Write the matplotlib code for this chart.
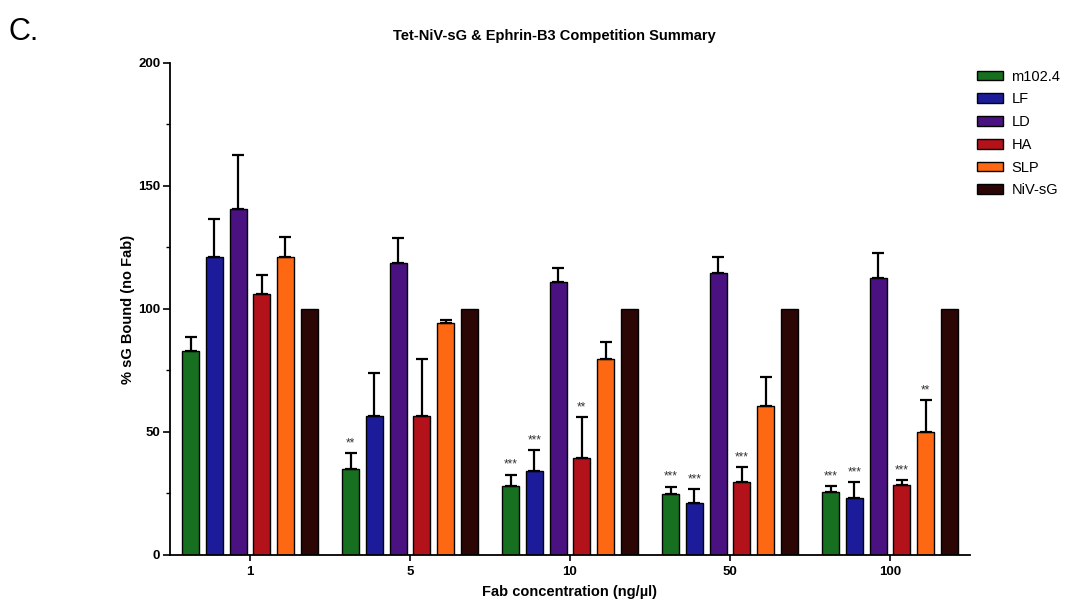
import numpy as np
import matplotlib
matplotlib.use("Agg")
import matplotlib.pyplot as plt
from matplotlib.ticker import MultipleLocator

plt.rcParams['font.family'] = ['Liberation Sans', 'DejaVu Sans']

concentrations = ["1", "5", "10", "50", "100"]
series = ["m102.4", "LF", "LD", "HA", "SLP", "NiV-sG"]
colors = ["#17701f", "#1c1c9a", "#4a1280", "#b3121a", "#ff6812", "#2c0505"]

means = {
    "m102.4": [83, 35, 28, 24.7, 25.5],
    "LF":     [121, 56.5, 34, 21.3, 23],
    "LD":     [140.5, 118.5, 111, 114.5, 112.7],
    "HA":     [106, 56.5, 39.6, 29.8, 28.5],
    "SLP":    [121.3, 94.2, 79.5, 60.7, 50.1],
    "NiV-sG": [100, 100, 100, 100, 100],
}
errors = {
    "m102.4": [5.5, 6.6, 4.7, 3.1, 2.5],
    "LF":     [15.5, 17.6, 8.5, 5.4, 6.8],
    "LD":     [22, 10.5, 5.8, 6.8, 9.9],
    "HA":     [8, 23, 16.6, 6.1, 2],
    "SLP":    [8, 1.3, 7, 11.8, 12.9],
    "NiV-sG": [0, 0, 0, 0, 0],
}
stars = {
    "m102.4": ["", "**", "***", "***", "***"],
    "LF":     ["", "", "***", "***", "***"],
    "LD":     ["", "", "", "", ""],
    "HA":     ["", "", "**", "***", "***"],
    "SLP":    ["", "", "", "", "**"],
    "NiV-sG": ["", "", "", "", ""],
}

fig = plt.figure(figsize=(10.71, 6.08), dpi=100)
ax = fig.add_axes([0.1587, 0.0872, 0.747, 0.8092])

x = np.arange(len(concentrations))
step = 0.148
width = 0.107
for i, (name, col) in enumerate(zip(series, colors)):
    pos = x + (i - 2.5) * step
    vals = means[name]
    errs = errors[name]
    ax.bar(pos, vals, width=width, color=col, edgecolor="black", linewidth=1.0,
           label=name, zorder=2)
    has_err = [e > 0 for e in errs]
    ax.errorbar(pos[has_err], np.array(vals)[has_err],
                yerr=[np.zeros(sum(has_err)), np.array(errs)[has_err]],
                fmt="none", ecolor="black", elinewidth=1.6, capsize=4,
                capthick=1.6, zorder=3)
    for p, v, e, s in zip(pos, vals, errs, stars[name]):
        if s:
            ax.text(p, v + e + 1.5, s, ha="center", va="bottom", fontsize=8.5,
                    color="#333333")

ax.set_xlim(-0.5, 4.5)
ax.set_ylim(0, 200)
ax.spines["top"].set_visible(False)
ax.spines["right"].set_visible(False)
ax.spines["left"].set_linewidth(1.3)
ax.spines["bottom"].set_linewidth(1.3)
ax.set_xticks(x)
ax.set_xticklabels(concentrations, fontweight="bold", fontsize=9.5)
ax.yaxis.set_major_locator(MultipleLocator(50))
ax.yaxis.set_minor_locator(MultipleLocator(25))
ax.tick_params(axis="y", which="major", length=5, width=1.2, labelsize=9.5, pad=2)
ax.tick_params(axis="y", which="minor", length=3, width=1.0)
ax.tick_params(axis="x", length=4, width=1.2, pad=4)
for lbl in ax.get_yticklabels():
    lbl.set_fontweight("bold")

ax.set_ylabel("% sG Bound (no Fab)", fontweight="bold", fontsize=10.5, labelpad=2)
ax.set_xlabel("Fab concentration (ng/µl)", fontweight="bold", fontsize=10.5, labelpad=5)

fig.text(0.518, 0.940, "Tet-NiV-sG & Ephrin-B3 Competition Summary",
         ha="center", va="center", fontweight="bold", fontsize=10.5)
fig.text(0.008, 0.948, "C.", ha="left", va="center", fontsize=22)

fig.legend(loc="upper left", bbox_to_anchor=(0.907, 0.895), frameon=False,
           fontsize=10.5, handlelength=1.8, handleheight=0.65, labelspacing=0.6,
           handletextpad=0.55, borderaxespad=0)

fig.savefig("out.png", dpi=100)
